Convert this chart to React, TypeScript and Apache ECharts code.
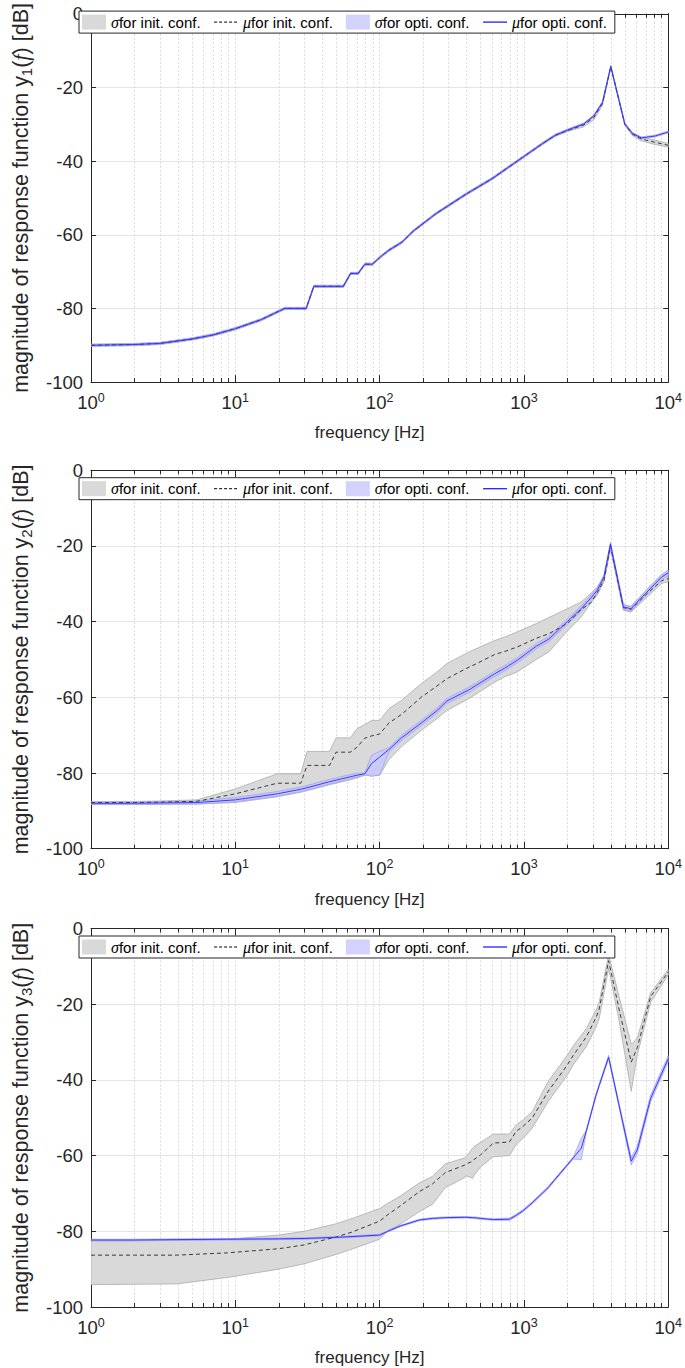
import React, { useEffect, useRef } from 'react';
import * as echarts from 'echarts';

const FONT = 'Liberation Sans';
const SERIF = 'Liberation Serif';
const AX = '#262626';

// ---------- Panel 1 : y1 ----------
const F1 = [1, 2, 3, 5, 7, 10, 15, 22, 31, 35, 56, 63, 71, 79, 89, 102, 116, 143, 171, 245, 400, 600, 900, 1350, 1650, 2000, 2600, 3050, 3500, 4000, 5000, 5650, 6500, 8100, 10000];
const INIT1_MEAN = [-90.0, -89.8, -89.5, -88.3, -87.2, -85.5, -83.1, -80.0, -80.0, -74.0, -74.0, -70.5, -70.5, -68.0, -68.0, -65.9, -64.2, -62.0, -59.0, -54.3, -48.9, -44.8, -40.0, -35.2, -33.0, -31.7, -30.2, -28.2, -24.4, -14.4, -30.0, -32.7, -34.0, -34.9, -35.7];
const INIT1_SIGMA = [0.3, 0.3, 0.3, 0.3, 0.3, 0.3, 0.3, 0.3, 0.3, 0.3, 0.3, 0.3, 0.3, 0.3, 0.3, 0.3, 0.3, 0.3, 0.3, 0.3, 0.3, 0.3, 0.3, 0.3, 0.3, 0.3, 0.5, 0.6, 0.5, 0.3, 0.3, 0.4, 0.5, 0.6, 0.5];
const OPT1_MEAN = [-90.0, -89.8, -89.5, -88.3, -87.2, -85.5, -83.1, -80.0, -80.0, -74.0, -74.0, -70.5, -70.5, -68.0, -68.0, -65.9, -64.2, -62.0, -59.0, -54.3, -48.9, -44.8, -40.0, -35.2, -33.0, -31.6, -29.9, -27.7, -24.1, -14.3, -29.9, -32.5, -33.7, -33.2, -32.1];
const OPT1_SIGMA = [0.25, 0.25, 0.25, 0.25, 0.25, 0.25, 0.25, 0.25, 0.25, 0.25, 0.25, 0.25, 0.25, 0.25, 0.25, 0.25, 0.25, 0.25, 0.25, 0.25, 0.25, 0.25, 0.25, 0.25, 0.25, 0.25, 0.25, 0.25, 0.25, 0.25, 0.25, 0.25, 0.25, 0.25, 0.25];

// ---------- Panel 2 : y2 ----------
const F2 = [1, 2, 3, 5.4, 10, 19.5, 28.4, 31.4, 45, 49.9, 62.7, 69.6, 79, 88, 100, 116, 142, 194, 250, 292, 417, 464, 627, 735, 900, 1219, 1490, 2000, 2492, 2920, 3228, 3587, 3980, 4887, 5516, 6953, 9015, 10000];
const INIT2_UPPER = [-87.6, -87.5, -87.4, -87.1, -84.2, -80.2, -80.2, -74.3, -74.3, -70.7, -70.7, -68.3, -67.2, -66.1, -66.1, -63.0, -60.8, -56.4, -53.3, -51.1, -48.0, -47.2, -45.0, -44.1, -42.7, -40.5, -38.9, -36.6, -34.8, -32.5, -30.8, -28.2, -19.6, -35.5, -36.0, -32.0, -27.6, -26.9];
const INIT2_MEAN = [-87.8, -87.8, -87.7, -87.5, -85.5, -82.7, -82.7, -78.0, -78.0, -74.5, -74.5, -73.2, -70.8, -70.2, -69.7, -66.8, -64.5, -60.0, -57.0, -55.1, -52.0, -51.2, -48.7, -47.9, -46.7, -44.4, -43.2, -40.5, -36.8, -35.0, -32.3, -29.1, -20.0, -36.3, -36.8, -33.0, -29.2, -28.6];
const INIT2_LOWER = [-88.3, -88.3, -88.3, -88.2, -87.8, -86.3, -85.1, -84.7, -83.1, -82.7, -81.8, -81.3, -80.6, -80.6, -80.6, -76.5, -73.0, -68.8, -65.6, -63.5, -60.3, -59.2, -56.0, -54.6, -53.3, -50.0, -48.0, -42.5, -38.8, -35.0, -33.0, -29.5, -21.0, -37.0, -37.5, -33.9, -29.9, -29.5];
const OPT2_UPPER = [-87.7, -87.7, -87.6, -87.4, -86.5, -84.9, -83.7, -83.3, -81.7, -81.3, -80.4, -80.1, -80.0, -75.3, -74.3, -73.3, -70.0, -66.1, -62.8, -60.3, -57.3, -56.2, -53.1, -51.6, -49.5, -45.8, -43.9, -39.3, -35.9, -33.0, -31.0, -27.6, -19.0, -35.5, -36.0, -31.9, -27.5, -26.4];
const OPT2_MEAN = [-88.0, -88.0, -87.9, -87.8, -87.1, -85.5, -84.3, -83.9, -82.3, -81.9, -81.0, -80.6, -80.2, -77.5, -75.8, -73.8, -70.7, -66.8, -63.5, -61.0, -58.0, -56.9, -53.8, -52.3, -50.2, -46.5, -44.6, -40.0, -36.6, -33.7, -31.7, -28.2, -19.5, -36.1, -36.6, -32.6, -28.2, -27.1];
const OPT2_LOWER = [-88.3, -88.3, -88.2, -88.2, -87.6, -86.1, -84.9, -84.5, -82.9, -82.5, -81.6, -81.1, -80.4, -80.9, -80.5, -74.5, -71.4, -67.5, -64.2, -61.7, -58.7, -57.6, -54.5, -53.0, -50.9, -47.2, -45.3, -40.7, -37.3, -34.4, -32.4, -28.8, -20.0, -36.7, -37.2, -33.3, -28.9, -27.8];

// ---------- Panel 3 : y3 ----------
const F3 = [1, 2, 3.9, 8.8, 20, 30, 50, 64.5, 100, 114, 139, 189, 232, 285, 389, 398, 441, 452, 501, 613, 794, 883, 983, 1140, 1468, 1995, 2199, 2500, 2701, 3162, 3322, 3862, 4544, 5543, 6100, 7550, 10000];
const INIT3_UPPER = [-82.5, -82.5, -82.4, -82.1, -81.0, -80.0, -78.0, -76.6, -74.0, -72.6, -70.7, -67.2, -65.5, -62.2, -60.6, -60.3, -58.0, -57.6, -56.5, -54.3, -54.3, -51.9, -50.6, -48.4, -40.5, -33.5, -31.0, -28.2, -26.5, -21.5, -19.5, -7.0, -17.6, -30.5, -29.0, -17.0, -10.8];
const INIT3_MEAN = [-86.3, -86.3, -86.3, -85.7, -84.6, -83.6, -81.5, -80.2, -77.3, -75.6, -73.3, -69.5, -67.5, -64.5, -62.5, -62.2, -61.5, -61.0, -59.8, -56.7, -56.4, -53.6, -52.3, -50.1, -43.1, -36.1, -33.5, -30.5, -28.7, -23.5, -21.3, -8.5, -21.0, -35.3, -31.5, -18.0, -11.5];
const INIT3_LOWER = [-94.1, -94.0, -93.9, -92.2, -90.0, -88.6, -86.1, -84.7, -82.1, -79.8, -78.1, -74.8, -72.9, -68.5, -65.8, -65.3, -66.0, -65.2, -63.0, -60.3, -60.0, -57.1, -55.5, -52.8, -45.8, -38.8, -36.0, -33.0, -31.3, -26.0, -23.9, -10.5, -24.0, -43.0, -33.5, -19.5, -12.3];
const OPT3_UPPER = [-82.1, -82.1, -82.0, -81.9, -81.8, -81.7, -81.4, -81.2, -80.8, -79.8, -78.4, -76.8, -76.4, -76.2, -76.1, -76.1, -76.2, -76.2, -76.4, -76.7, -76.5, -75.5, -74.3, -72.2, -68.2, -62.2, -60.3, -55.4, -53.3, -43.6, -41.1, -33.5, -45.9, -60.5, -57.5, -44.0, -33.6];
const OPT3_MEAN = [-82.3, -82.3, -82.2, -82.1, -82.0, -81.9, -81.6, -81.4, -81.0, -80.0, -78.6, -77.0, -76.6, -76.4, -76.3, -76.3, -76.4, -76.4, -76.6, -76.9, -76.8, -75.8, -74.6, -72.5, -68.5, -62.5, -60.6, -58.0, -53.6, -44.0, -41.5, -34.0, -46.4, -61.5, -58.5, -44.9, -34.4];
const OPT3_LOWER = [-82.5, -82.5, -82.4, -82.3, -82.2, -82.1, -81.8, -81.6, -81.2, -80.2, -78.8, -77.2, -76.8, -76.6, -76.5, -76.5, -76.6, -76.6, -76.8, -77.1, -77.1, -76.1, -74.9, -72.8, -68.8, -62.8, -60.9, -61.1, -53.9, -44.4, -41.9, -34.5, -46.9, -62.5, -59.5, -45.8, -35.2];

// ---------- axes ----------
const X_MIN = 1;
const X_MAX = 10000;
const Y_MIN = -100;
const Y_MAX = 0;
const Y_STEP = 20;
const GRID_FREQS = [1, 2, 3, 4, 5, 6, 7, 8, 9, 10, 20, 30, 40, 50, 60, 70, 80, 90, 100, 200, 300, 400, 500, 600, 700, 800, 900, 1000, 2000, 3000, 4000, 5000, 6000, 7000, 8000, 9000, 10000];

const LEGEND_NAMES = ['σfor init. conf.', 'μfor init. conf.', 'σfor opti. conf.', 'μfor opti. conf.'];

const GRAY_FILL = '#d9d9d9';
const GRAY_EDGE = '#a3a3a3';
const BLUE_FILL = 'rgba(196,196,255,0.75)';
const BLUE_EDGE = '#9a9aff';
const BLUE_LINE = '#3838ff';
const DASH_LINE = '#3a3a3a';
const NONE = 'rgba(0,0,0,0)';

const GRID_TOPS = [3.6, 470.2, 928.5];
const GRID_H = 378.5;

function buildPanels() {
  return [
    {
      sub: '1', f: F1,
      initLo: INIT1_MEAN.map((m, i) => m - INIT1_SIGMA[i]), initMean: INIT1_MEAN, initHi: INIT1_MEAN.map((m, i) => m + INIT1_SIGMA[i]),
      optLo: OPT1_MEAN.map((m, i) => m - OPT1_SIGMA[i]), optMean: OPT1_MEAN, optHi: OPT1_MEAN.map((m, i) => m + OPT1_SIGMA[i]),
    },
    { sub: '2', f: F2, initLo: INIT2_LOWER, initMean: INIT2_MEAN, initHi: INIT2_UPPER, optLo: OPT2_LOWER, optMean: OPT2_MEAN, optHi: OPT2_UPPER },
    { sub: '3', f: F3, initLo: INIT3_LOWER, initMean: INIT3_MEAN, initHi: INIT3_UPPER, optLo: OPT3_LOWER, optMean: OPT3_MEAN, optHi: OPT3_UPPER },
  ];
}

function band(name: string, f: number[], lo: number[], hi: number[], fill: string, stroke: string, xi: number, yi: number) {
  return {
    type: 'custom',
    name,
    xAxisIndex: xi,
    yAxisIndex: yi,
    data: f.map((x, i) => [x, lo[i], hi[i]]),
    encode: { x: 0, y: [1, 2] },
    itemStyle: { color: fill },
    clip: true,
    silent: true,
    renderItem: (params: any, api: any) => {
      if (params.dataIndex !== 0) return null;
      const pts: number[][] = [];
      for (let i = 0; i < f.length; i++) pts.push(api.coord([f[i], hi[i]]));
      for (let i = f.length - 1; i >= 0; i--) pts.push(api.coord([f[i], lo[i]]));
      return { type: 'polygon', shape: { points: pts }, style: { fill, stroke, lineWidth: 0.7 } };
    },
  };
}

function line(name: string, f: number[], v: number[], color: string, type: any, width: number, xi: number, yi: number) {
  return {
    type: 'line',
    name,
    xAxisIndex: xi,
    yAxisIndex: yi,
    data: f.map((x, i) => [x, v[i]]),
    symbol: 'none',
    showSymbol: false,
    silent: true,
    lineStyle: { color, type, width },
    itemStyle: { color },
  };
}

function buildOption() {
  const panels = buildPanels();
  const gridLogs = GRID_FREQS.map((v) => Math.log10(v));
  const grid: any[] = [];
  const xAxis: any[] = [];
  const yAxis: any[] = [];
  const series: any[] = [];
  const legend: any[] = [];

  panels.forEach((p, k) => {
    grid.push({ left: 71, right: 15, top: GRID_TOPS[k], height: GRID_H });
    xAxis.push({
      type: 'log', logBase: 10, gridIndex: k, min: X_MIN, max: X_MAX, position: 'bottom',
      name: 'frequency [Hz]', nameLocation: 'middle', nameGap: 42,
      nameTextStyle: { fontSize: 17, fontFamily: FONT, color: AX, padding: [0, 20, 0, 0] },
      axisLine: { show: true, onZero: false, lineStyle: { color: AX, width: 1 } },
      axisTick: { show: true, inside: true, length: 7, lineStyle: { color: AX } },
      splitLine: { show: false },
      minorTick: { show: false },
      axisLabel: {
        margin: 9,
        formatter: (v: number) => `{b|10}{s|${Math.round(Math.log10(v))}}`,
        rich: {
          b: { fontSize: 18.5, fontFamily: FONT, color: AX, lineHeight: 22 },
          s: { fontSize: 12.5, fontFamily: FONT, color: AX, lineHeight: 12, verticalAlign: 'top' },
        },
      },
    });
    xAxis.push({
      type: 'value', gridIndex: k, min: 0, max: 4, position: 'bottom',
      axisLine: { show: false, onZero: false },
      axisLabel: { show: false },
      axisTick: { show: true, inside: true, length: 4, customValues: gridLogs, lineStyle: { color: AX } },
      splitLine: { show: true, lineStyle: { color: '#dadada', type: [2, 2], width: 1 } },
    });
    xAxis.push({
      type: 'value', gridIndex: k, min: 0, max: 4, position: 'top',
      axisLine: { show: false, onZero: false },
      axisLabel: { show: false },
      axisTick: { show: true, inside: true, length: 4, customValues: gridLogs, lineStyle: { color: AX } },
      splitLine: { show: false },
    });
    xAxis.push({
      type: 'log', logBase: 10, gridIndex: k, min: X_MIN, max: X_MAX, position: 'top',
      axisLine: { show: true, onZero: false, lineStyle: { color: AX, width: 1 } },
      axisTick: { show: true, inside: true, length: 7, lineStyle: { color: AX } },
      axisLabel: { show: false },
      splitLine: { show: false },
    });

    yAxis.push({
      type: 'value', gridIndex: k, min: Y_MIN, max: Y_MAX, interval: Y_STEP, position: 'left',
      name: `magnitude of response function y{sub|${p.sub}}({it|f}) [dB]`,
      nameLocation: 'middle', nameGap: 57,
      nameTextStyle: {
        fontSize: 21.5, fontFamily: FONT, color: AX, lineHeight: 26,
        rich: {
          sub: { fontSize: 15, fontFamily: FONT, color: AX, lineHeight: 15, verticalAlign: 'bottom', padding: [11, 0, 0, 0] },
          it: { fontSize: 22.5, fontFamily: SERIF, fontStyle: 'italic', color: AX, lineHeight: 26 },
        },
      },
      axisLine: { show: true, onZero: false, lineStyle: { color: AX, width: 1 } },
      axisTick: { show: true, inside: true, length: 5, lineStyle: { color: AX } },
      axisLabel: { fontSize: 18.5, fontFamily: FONT, color: AX, margin: 8 },
      splitLine: { show: true, lineStyle: { color: '#e4e4e4', width: 1 } },
    });
    yAxis.push({
      type: 'value', gridIndex: k, min: Y_MIN, max: Y_MAX, interval: Y_STEP, position: 'right',
      axisLine: { show: true, onZero: false, lineStyle: { color: AX, width: 1 } },
      axisTick: { show: true, inside: true, length: 5, lineStyle: { color: AX } },
      axisLabel: { show: false },
      splitLine: { show: false },
    });

    const xi = k * 4;
    const yi = k * 2;
    series.push(band(LEGEND_NAMES[0], p.f, p.initLo, p.initHi, GRAY_FILL, GRAY_EDGE, xi, yi));
    series.push(line(LEGEND_NAMES[1], p.f, p.initMean, DASH_LINE, [4, 3], 1, xi, yi));
    series.push(band(LEGEND_NAMES[2], p.f, p.optLo, p.optHi, BLUE_FILL, BLUE_EDGE, xi, yi));
    series.push(line(LEGEND_NAMES[3], p.f, p.optMean, BLUE_LINE, 'solid', 1, xi, yi));

    legend.push({
      left: 79,
      top: GRID_TOPS[k] + 7.5,
      orient: 'horizontal',
      padding: [3, 8, 3, 3],
      itemGap: 13,
      itemWidth: 24,
      itemHeight: 15,
      borderColor: AX,
      borderWidth: 1,
      borderRadius: 0,
      backgroundColor: '#ffffff',
      selectedMode: false,
      data: [
        { name: LEGEND_NAMES[0], icon: 'rect', itemStyle: { color: GRAY_FILL, borderWidth: 0 } },
        { name: LEGEND_NAMES[1], itemStyle: { color: NONE, borderColor: NONE, borderWidth: 0 }, lineStyle: { color: '#000', type: [3, 2], width: 1 } },
        { name: LEGEND_NAMES[2], icon: 'rect', itemStyle: { color: '#d2d2fc', borderWidth: 0 } },
        { name: LEGEND_NAMES[3], itemStyle: { color: NONE, borderColor: NONE, borderWidth: 0 }, lineStyle: { color: '#1f1fff', width: 1.3 } },
      ],
      formatter: (name: string) => `{g|${name.slice(0, 1)}}${name.slice(1)}`,
      textStyle: {
        fontSize: 15, fontFamily: FONT, color: '#000',
        rich: { g: { fontSize: 16, fontFamily: SERIF, fontStyle: 'italic', color: '#000' } },
      },
    });
  });

  return {
    animation: false,
    backgroundColor: '#ffffff',
    textStyle: { fontFamily: FONT },
    grid,
    xAxis,
    yAxis,
    legend,
    series,
  };
}

export default function App() {
  const ref = useRef<HTMLDivElement>(null);
  useEffect(() => {
    document.body.style.margin = '0';
    const chart = echarts.init(ref.current as HTMLDivElement, undefined, { renderer: 'svg' });
    chart.setOption(buildOption() as any);
    return () => chart.dispose();
  }, []);
  return <div ref={ref} style={{ position: 'absolute', left: 0, top: 0, width: 685, height: 1368, background: '#fff' }} />;
}
